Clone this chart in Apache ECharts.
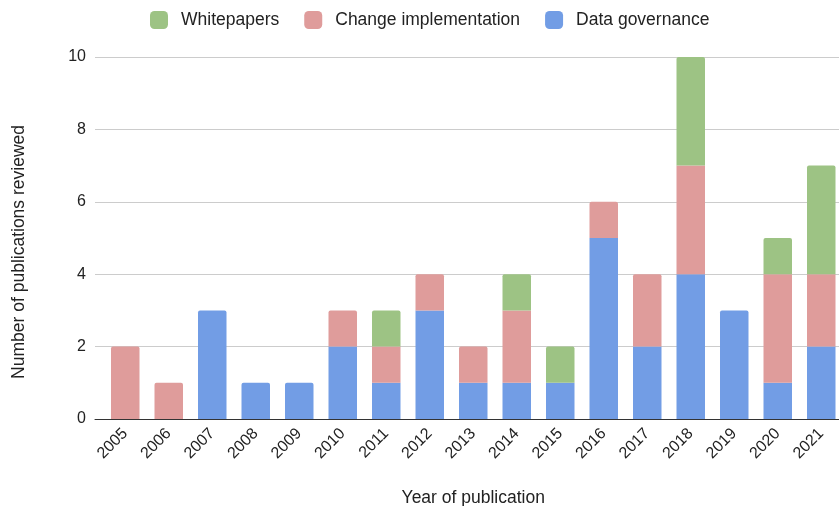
<!DOCTYPE html>
<html>
<head>
<meta charset="utf-8">
<script src="https://cdn.jsdelivr.net/npm/echarts@6/dist/echarts.min.js"></script>
<style>
  html, body { margin: 0; padding: 0; background: #fff; }
  #container { width: 839px; height: 506px; }
</style>
</head>
<body>
<div id="container"></div>
<script>
// publication counts per year
var years = ['2005', '2006', '2007', '2008', '2009', '2010', '2011', '2012', '2013',
             '2014', '2015', '2016', '2017', '2018', '2019', '2020', '2021'];
var dataGovernance = [0, 0, 3, 1, 1, 2, 1, 3, 1, 1, 1, 5, 2, 4, 3, 1, 2];
var changeImplementation = [2, 1, 0, 0, 0, 1, 1, 1, 1, 2, 0, 1, 2, 3, 0, 3, 2];
var whitepapers = [0, 0, 0, 0, 0, 0, 1, 0, 0, 1, 1, 0, 0, 3, 0, 1, 3];
var yTicks = [0, 2, 4, 6, 8, 10];

var FONT = 'Arial, "Liberation Sans", sans-serif';
var stackOrder = [dataGovernance, changeImplementation, whitepapers];

// round the top corners only on the topmost segment of each bar
function withTops(values, idx) {
    return values.map(function (v, i) {
        var isTop = true;
        for (var k = idx + 1; k < stackOrder.length; k++) {
            if (stackOrder[k][i] > 0) isTop = false;
        }
        if (isTop && v > 0) {
            return { value: v, itemStyle: { borderRadius: [2, 2, 0, 0] } };
        }
        return v;
    });
}

var dom = document.getElementById('container');
var chart = echarts.init(dom, null, { renderer: 'canvas' });

chart.setOption({
    animation: false,
    textStyle: { fontFamily: FONT },
    legend: {
        data: ['Whitepapers', 'Change implementation', 'Data governance'],
        left: 145,
        top: 6,
        icon: 'roundRect',
        itemWidth: 18,
        itemHeight: 18,
        itemGap: 25,
        textStyle: { fontSize: 17.5, color: '#222', fontFamily: FONT, padding: [0, 0, 0, 8] }
    },
    grid: [
        { left: 95, right: 0, top: 57, bottom: 87, outerBoundsMode: 'none', containLabel: false },
        { left: 103.5, right: -4, top: 57, bottom: 87, outerBoundsMode: 'none', containLabel: false }
    ],
    xAxis: [
        {
            gridIndex: 0,
            type: 'category',
            data: [''],
            axisLine: { show: true, lineStyle: { color: '#333', width: 1 } },
            axisTick: { show: false },
            axisLabel: { show: false }
        },
        {
            gridIndex: 1,
            type: 'category',
            data: years,
            name: 'Year of publication',
            nameLocation: 'middle',
            nameGap: 70,
            nameTextStyle: { fontSize: 17.5, color: '#222', fontFamily: FONT },
            axisLine: { show: false },
            axisTick: { show: false },
            axisLabel: {
                rotate: 45, fontSize: 16, color: '#222', margin: 12, interval: 0,
                padding: [24, 0, 0, 0], fontFamily: FONT
            }
        }
    ],
    yAxis: [
        {
            gridIndex: 0,
            type: 'value',
            min: yTicks[0],
            max: yTicks[yTicks.length - 1],
            interval: 2,
            axisLine: { show: false },
            axisTick: { show: false },
            axisLabel: { fontSize: 16, color: '#222', margin: 9, fontFamily: FONT },
            splitLine: { lineStyle: { color: '#cccccc', width: 1 } }
        },
        {
            gridIndex: 1,
            type: 'value',
            min: yTicks[0],
            max: yTicks[yTicks.length - 1],
            interval: 2,
            show: false,
            splitLine: { show: false }
        }
    ],
    graphic: [
        {
            type: 'text',
            left: 10,
            top: 125,
            rotation: Math.PI / 2,
            style: {
                text: 'Number of publications reviewed',
                fill: '#222',
                font: '17.5px ' + FONT,
                textAlign: 'center',
                textVerticalAlign: 'middle'
            }
        }
    ],
    series: [
        {
            name: 'Data governance',
            type: 'bar',
            stack: 'total',
            xAxisIndex: 1,
            yAxisIndex: 1,
            barWidth: 28.5,
            itemStyle: { color: '#729de5' },
            data: withTops(dataGovernance, 0)
        },
        {
            name: 'Change implementation',
            type: 'bar',
            stack: 'total',
            xAxisIndex: 1,
            yAxisIndex: 1,
            barWidth: 28.5,
            itemStyle: { color: '#df9c9b' },
            data: withTops(changeImplementation, 1)
        },
        {
            name: 'Whitepapers',
            type: 'bar',
            stack: 'total',
            xAxisIndex: 1,
            yAxisIndex: 1,
            barWidth: 28.5,
            itemStyle: { color: '#9dc384' },
            data: withTops(whitepapers, 2)
        }
    ]
});
</script>
</body>
</html>
